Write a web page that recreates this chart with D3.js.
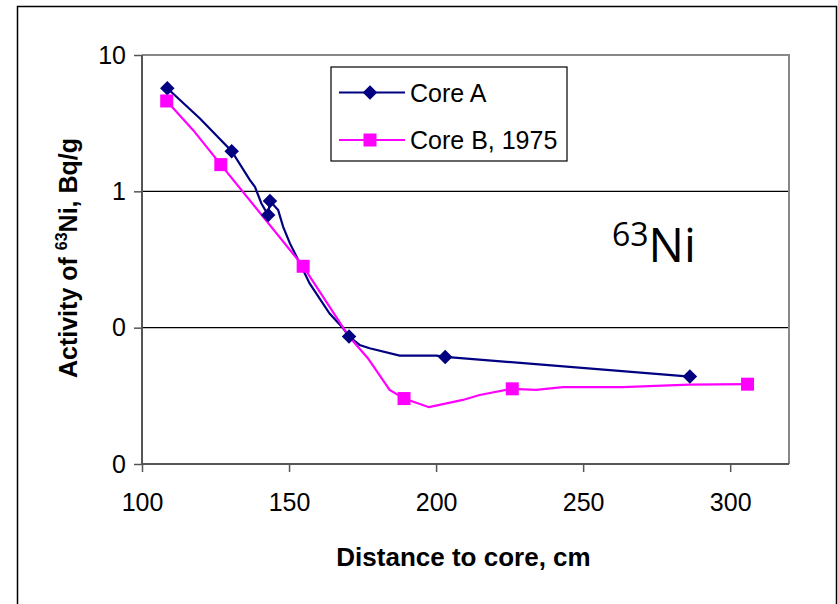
<!DOCTYPE html>
<html><head><meta charset="utf-8">
<script src="https://cdn.jsdelivr.net/npm/d3@7"></script>
<style>html,body{margin:0;padding:0;background:#fff;}svg{display:block;}</style>
</head><body>
<script>
// ---- data ----
const xTicks = [100, 150, 200, 250, 300];
const yTicks = [10, 1, 0.1, 0.01];
const yTickLabels = ["10", "1", "0", "0"];
const seriesNames = ["Core A", "Core B, 1975"];
// marker points (distance cm, activity Bq/g)
const coreAMarkerX = [108.6, 130.5, 143.5, 142.9, 170.4, 203.1, 286.3];
const coreAMarkerY = [5.7, 1.97, 0.85, 0.67, 0.086, 0.061, 0.0438];
const coreBMarkerX = [108.4, 126.8, 154.8, 189.1, 225.9, 305.9];
const coreBMarkerY = [4.6, 1.57, 0.282, 0.0302, 0.0356, 0.0385];
// connecting (fitted) line vertices
const coreALineX = [108.6, 119.7, 130.5, 136.7, 138.4, 140.6, 142.9, 143.5, 146.3, 148.0, 150.3, 153.7, 157.0, 163.8, 168.4, 170.4, 174.0, 177.4, 187.6, 200.1, 203.1, 286.3];
const coreALineY = [5.7, 3.42, 1.97, 1.21, 1.08, 0.815, 0.67, 0.85, 0.728, 0.549, 0.415, 0.296, 0.211, 0.127, 0.099, 0.086, 0.0747, 0.0706, 0.0624, 0.0624, 0.061, 0.0438];
const coreBLineX = [108.4, 117.4, 126.8, 154.8, 170.4, 176.8, 184.2, 189.1, 197.6, 209.1, 214.8, 225.9, 234.0, 243.1, 263.4, 286.1, 305.9];
const coreBLineY = [4.6, 2.81, 1.57, 0.282, 0.086, 0.0597, 0.035, 0.0302, 0.0261, 0.0295, 0.0321, 0.0356, 0.035, 0.0366, 0.0366, 0.0382, 0.0385];

const W = 838, H = 604;
const colA = "#000080", colB = "#FF00FF";
const svg = d3.select("body").append("svg").attr("width", W).attr("height", H)
  .style("font-family", "'Liberation Sans', Arial, sans-serif");

// outer frame
svg.append("rect").attr("x", 17.5).attr("y", 6.5).attr("width", 819).attr("height", 640)
  .attr("fill", "#fff").attr("stroke", "#000").attr("stroke-width", 1.5);

const L = 142, T = 55, R = 789, B = 464;
const x = d3.scaleLinear().domain([100, 320]).range([L, R]);
const y = d3.scaleLog().domain([0.01, 10]).range([B, T]);

// gridlines
svg.append("g").selectAll("line").data([1, 0.1]).join("line")
  .attr("x1", L).attr("x2", R).attr("y1", d => y(d)).attr("y2", d => y(d))
  .attr("stroke", "#000").attr("stroke-width", 1.2);

// top & right border
svg.append("path").attr("d", `M${L},${T}H${R}V${B}`).attr("fill", "none")
  .attr("stroke", "#888").attr("stroke-width", 2);

// axes
const xAxis = d3.axisBottom(x).tickValues(xTicks).tickSize(8).tickPadding(21).tickFormat(d3.format("d"));
const gx = svg.append("g").attr("transform", `translate(0,${B})`).call(xAxis);
gx.select(".domain").attr("d", `M${L},0H${R}`).attr("stroke", "#555").attr("stroke-width", 2);
gx.selectAll(".tick line").attr("stroke", "#555").attr("stroke-width", 1.5);
gx.selectAll(".tick text").attr("font-size", 25).attr("fill", "#000")
  .attr("font-family", "'Liberation Sans', Arial, sans-serif");

const yAxis = d3.axisLeft(y).tickValues(yTicks).tickSize(8).tickPadding(8)
  .tickFormat((d, i) => yTickLabels[i]);
const gy = svg.append("g").attr("transform", `translate(${L},0)`).call(yAxis);
gy.select(".domain").attr("d", `M0,${T}V${B}`).attr("stroke", "#555").attr("stroke-width", 2);
gy.selectAll(".tick line").attr("stroke", "#555").attr("stroke-width", 1.5);
gy.selectAll(".tick text").attr("font-size", 25).attr("fill", "#000")
  .attr("font-family", "'Liberation Sans', Arial, sans-serif");

// lines
const line = d3.line().x(d => x(d[0])).y(d => y(d[1]));
const lineA = coreALineX.map((v, i) => [v, coreALineY[i]]);
const lineB = coreBLineX.map((v, i) => [v, coreBLineY[i]]);
svg.append("path").datum(lineA).attr("d", line).attr("fill", "none").attr("stroke", colA).attr("stroke-width", 2.2);
svg.append("path").datum(lineB).attr("d", line).attr("fill", "none").attr("stroke", colB).attr("stroke-width", 2.2);

// markers
const ptsA = coreAMarkerX.map((v, i) => [v, coreAMarkerY[i]]);
const ptsB = coreBMarkerX.map((v, i) => [v, coreBMarkerY[i]]);
svg.append("g").selectAll("path").data(ptsA).join("path")
  .attr("d", d3.symbol().type(d3.symbolSquare).size(105))
  .attr("transform", d => `translate(${x(d[0])},${y(d[1])}) rotate(45)`)
  .attr("fill", colA);
svg.append("g").selectAll("rect").data(ptsB).join("rect")
  .attr("x", d => x(d[0]) - 6.5).attr("y", d => y(d[1]) - 6.5)
  .attr("width", 13).attr("height", 13).attr("fill", colB);

// legend
const lg = svg.append("g");
lg.append("rect").attr("x", 331).attr("y", 67).attr("width", 236).attr("height", 94)
  .attr("fill", "#fff").attr("stroke", "#000").attr("stroke-width", 1.2);
const legRows = [
  { name: seriesNames[0], col: colA, yy: 92.5, kind: "d" },
  { name: seriesNames[1], col: colB, yy: 140, kind: "s" }
];
legRows.forEach(r => {
  lg.append("line").attr("x1", 339).attr("x2", 405).attr("y1", r.yy).attr("y2", r.yy)
    .attr("stroke", r.col).attr("stroke-width", 2.2);
  if (r.kind === "d") {
    lg.append("path").attr("d", d3.symbol().type(d3.symbolSquare).size(105))
      .attr("transform", `translate(370,${r.yy}) rotate(45)`).attr("fill", r.col);
  } else {
    lg.append("rect").attr("x", 363.5).attr("y", r.yy - 6.5).attr("width", 13).attr("height", 13).attr("fill", r.col);
  }
  lg.append("text").attr("x", 410).attr("y", r.yy + 9).attr("font-size", 25).attr("fill", "#000").text(r.name);
});

// axis titles
svg.append("text").attr("x", 463.5).attr("y", 566).attr("text-anchor", "middle")
  .attr("font-size", 26).attr("font-weight", "bold").text("Distance to core, cm");

const yt = svg.append("text").attr("transform", "translate(77,258) rotate(-90)")
  .attr("text-anchor", "middle").attr("font-size", 25).attr("font-weight", "bold");
yt.append("tspan").text("Activity of ");
yt.append("tspan").attr("font-size", 16).attr("dy", -10).text("63");
yt.append("tspan").attr("dy", 10).text("Ni, Bq/g");

// annotation
const an = svg.append("text").attr("x", 612).attr("y", 262)
  .style("font-family", "'Open Sans', sans-serif").attr("fill", "#000");
an.append("tspan").attr("font-size", 32).attr("dy", -16).text("63");
an.append("tspan").attr("font-size", 47).attr("dy", 16).text("Ni");
</script>
</body></html>
